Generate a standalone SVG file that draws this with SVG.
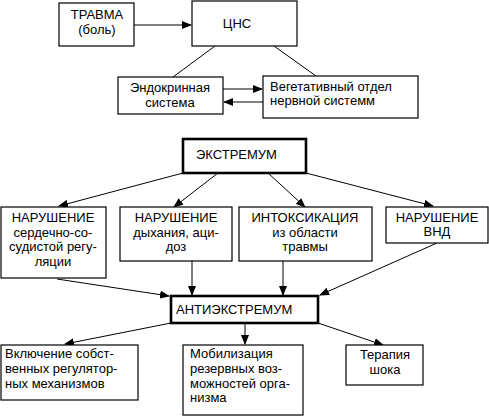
<svg xmlns="http://www.w3.org/2000/svg" width="489" height="416" viewBox="0 0 489 416">
<style>
rect{fill:#fff;stroke:#000;stroke-width:1.2}
rect.thick{stroke-width:2.6}
text{font-family:"Liberation Sans",Arial,sans-serif;font-size:13px;fill:#000}
.c{text-anchor:middle}
#connectors line{stroke:#000;stroke-width:1}
#connectors line.a{marker-end:url(#ah)}
</style>
<defs>
<marker id="ah" markerUnits="userSpaceOnUse" markerWidth="10" markerHeight="8" refX="9" refY="4" orient="auto">
<path d="M0,0 L10,4 L0,8 z" fill="#000"/>
</marker>
</defs>
<rect width="489" height="416" style="fill:#fff;stroke:none"/>
<g id="connectors">
<line class="a" x1="134" y1="25" x2="191" y2="25"/>
<line x1="215" y1="46" x2="173" y2="77"/>
<line x1="274" y1="46" x2="316" y2="76"/>
<line class="a" x1="223" y1="89" x2="262" y2="89"/>
<line class="a" x1="263" y1="102" x2="224" y2="102"/>
<line class="a" x1="183" y1="173" x2="59" y2="206"/>
<line class="a" x1="218" y1="173" x2="174" y2="207"/>
<line class="a" x1="268" y1="173" x2="305" y2="207"/>
<line class="a" x1="306" y1="173" x2="433" y2="206"/>
<line class="a" x1="57" y1="279" x2="169" y2="296"/>
<line class="a" x1="192" y1="261" x2="192" y2="295"/>
<line class="a" x1="283" y1="261" x2="283" y2="295"/>
<line class="a" x1="437" y1="243" x2="320" y2="295"/>
<line class="a" x1="171" y1="323" x2="65" y2="344"/>
<line class="a" x1="245" y1="323" x2="245" y2="344"/>
<line class="a" x1="318" y1="323" x2="383" y2="345"/>
</g>
<g id="trauma"><rect x="59" y="3" width="75" height="43"/><text class="c" x="97" y="19">ТРАВМА</text><text class="c" x="97" y="34">(боль)</text></g>
<g id="cns"><rect x="192" y="1" width="105" height="45"/><text class="c" x="237" y="28">ЦНС</text></g>
<g id="endocrine"><rect x="118" y="77" width="105" height="37"/><text class="c" x="170" y="92">Эндокринная</text><text class="c" x="170" y="107">система</text></g>
<g id="vegetative"><rect x="263" y="76" width="155" height="42"/><text x="270" y="91">Вегетативный отдел</text><text x="270" y="105">нервной системм</text></g>
<g id="extremum"><rect class="thick" x="183" y="139" width="123" height="34"/><text x="196" y="159">ЭКСТРЕМУМ</text></g>
<g id="cardio"><rect x="1" y="207" width="105" height="71"/><text class="c" x="53" y="222">НАРУШЕНИЕ</text><text class="c" x="53" y="237">сердечно-со-</text><text class="c" x="53" y="251">судистой регу-</text><text class="c" x="53" y="266">ляции</text></g>
<g id="breath"><rect x="120" y="207" width="112" height="54"/><text class="c" x="176" y="222">НАРУШЕНИЕ</text><text class="c" x="176" y="237">дыхания, аци-</text><text class="c" x="176" y="251">доз</text></g>
<g id="intox"><rect x="239" y="207" width="133" height="54"/><text class="c" x="305" y="222">ИНТОКСИКАЦИЯ</text><text class="c" x="305" y="237">из области</text><text class="c" x="305" y="251">травмы</text></g>
<g id="vnd"><rect x="386" y="207" width="102" height="36"/><text class="c" x="437" y="222">НАРУШЕНИЕ</text><text class="c" x="437" y="236">ВНД</text></g>
<g id="antiextremum"><rect class="thick" x="171" y="296" width="147" height="27"/><text x="176" y="314">АНТИЭКСТРЕМУМ</text></g>
<g id="own"><rect x="1" y="345" width="137" height="55"/><text x="5" y="358">Включение собст-</text><text x="5" y="373">венных регулятор-</text><text x="5" y="388">ных механизмов</text></g>
<g id="mobil"><rect x="183" y="345" width="120" height="70"/><text x="190" y="358">Мобилизация</text><text x="190" y="373">резервных воз-</text><text x="190" y="388">можностей орга-</text><text x="190" y="402">низма</text></g>
<g id="therapy"><rect x="346" y="345" width="77" height="40"/><text class="c" x="385" y="359">Терапия</text><text class="c" x="385" y="374">шока</text></g>
</svg>
